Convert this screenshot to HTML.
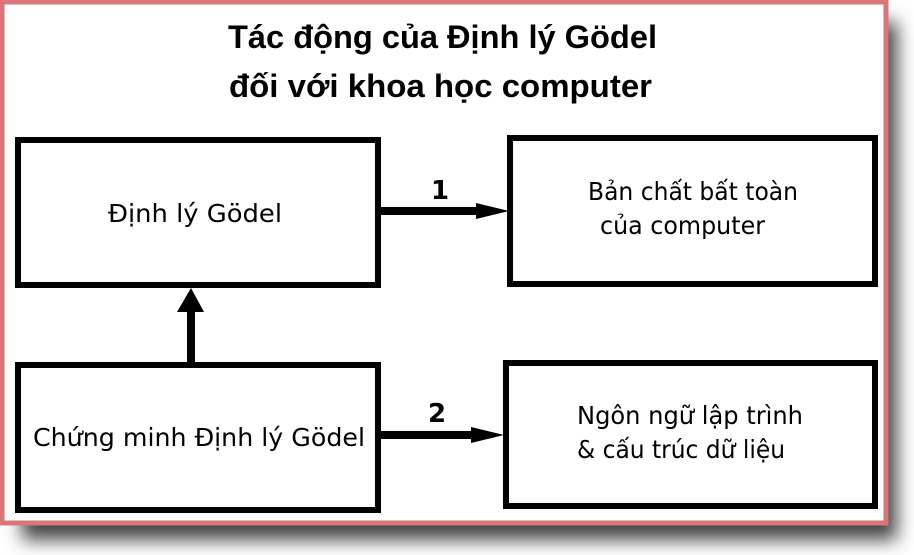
<!DOCTYPE html>
<html><head><meta charset="utf-8"><style>
html,body{margin:0;padding:0;background:#fff;width:914px;height:555px;overflow:hidden}
</style></head><body>
<svg width="914" height="555" xmlns="http://www.w3.org/2000/svg" style="position:absolute;left:0;top:0">
<defs>
<filter id="sh" x="-10%" y="-10%" width="130%" height="130%"><feGaussianBlur stdDeviation="9"/></filter>
</defs>
<rect x="22" y="22" width="875" height="518" fill="#444" filter="url(#sh)"/>
<rect x="2" y="2" width="884" height="521" fill="#fff" stroke="#d9767a" stroke-width="5"/>
<g font-family="'Liberation Sans','DejaVu Sans',sans-serif" fill="#000">
<text x="228" y="48" font-size="32" font-weight="bold" textLength="429" lengthAdjust="spacingAndGlyphs">Tác động của Định lý Gödel</text>
<text x="229" y="97" font-size="32" font-weight="bold" textLength="423" lengthAdjust="spacingAndGlyphs">đối với khoa học computer</text>
</g>
<g fill="none" stroke="#000" stroke-width="6">
<rect x="18" y="140" width="360" height="145"/>
<rect x="510" y="138" width="365" height="146"/>
<rect x="18" y="365" width="360" height="145"/>
<rect x="506" y="363" width="369" height="143"/>
</g>
<rect x="378" y="207" width="102" height="8" fill="#000"/>
<polygon points="476,203 509,211 476,219" fill="#000"/>
<rect x="378" y="431" width="98" height="8" fill="#000"/>
<polygon points="471,427 504,435 471,443" fill="#000"/>
<rect x="187" y="308" width="8" height="57" fill="#000"/>
<polygon points="177,312 191,288 204,312" fill="#000"/>
<g font-family="'DejaVu Sans','Liberation Sans',sans-serif" fill="#000" font-size="25">
<text x="431" y="199" font-size="26" font-weight="bold" font-family="'DejaVu Sans',sans-serif">1</text>
<text x="428" y="422" font-size="26" font-weight="bold" font-family="'DejaVu Sans',sans-serif">2</text>
<text x="108" y="222" textLength="174" lengthAdjust="spacingAndGlyphs">Định lý Gödel</text>
<text x="33" y="446" textLength="332" lengthAdjust="spacingAndGlyphs">Chứng minh Định lý Gödel</text>
<text x="588" y="200" textLength="210" lengthAdjust="spacingAndGlyphs">Bản chất bất toàn</text>
<text x="600" y="234" textLength="165" lengthAdjust="spacingAndGlyphs">của computer</text>
<text x="577" y="424" textLength="226" lengthAdjust="spacingAndGlyphs">Ngôn ngữ lập trình</text>
<text x="577" y="458" textLength="208" lengthAdjust="spacingAndGlyphs">&amp; cấu trúc dữ liệu</text>
</g>
</svg>
</body></html>
